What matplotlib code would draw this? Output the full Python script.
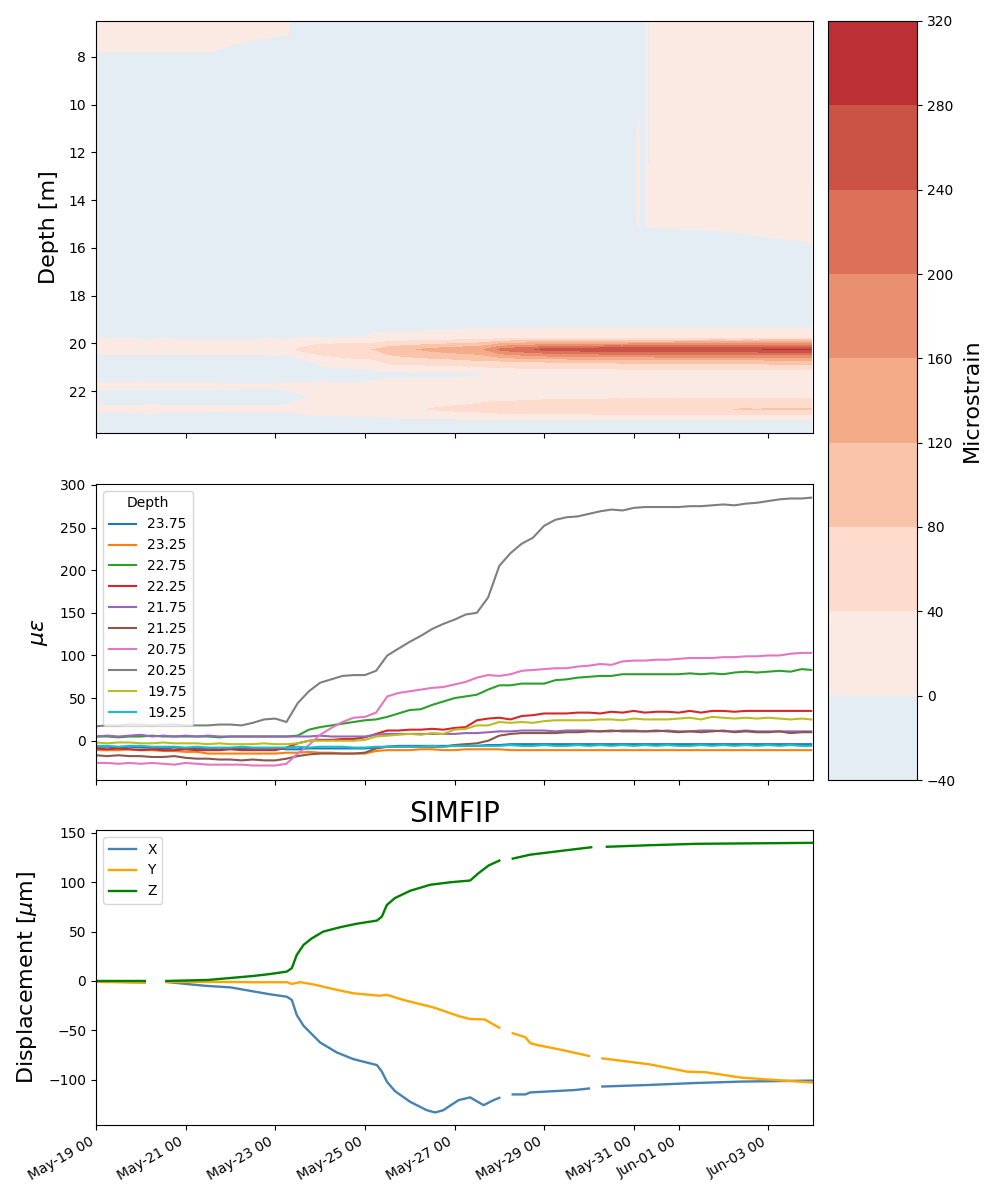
import numpy as np
import matplotlib
matplotlib.use('Agg')
import matplotlib.pyplot as plt
import matplotlib.dates as mdates
from matplotlib.colors import ListedColormap, BoundaryNorm

start = mdates.date2num(np.datetime64('2019-05-19T00:00'))
end = mdates.date2num(np.datetime64('2019-06-04T00:00'))

# fiber strain, one value per quarter day since start (record stops just short of the end)
days = [0, .25, .5, .75, 1, 1.25, 1.5, 1.75, 2, 2.25, 2.5, 2.75, 3, 3.25, 3.5, 3.75,
        4, 4.25, 4.5, 4.75, 5, 5.25, 5.5, 5.75, 6, 6.25, 6.5, 6.75, 7, 7.25, 7.5, 7.75,
        8, 8.25, 8.5, 8.75, 9, 9.25, 9.5, 9.75, 10, 10.25, 10.5, 10.75, 11, 11.25, 11.5, 11.75,
        12, 12.25, 12.5, 12.75, 13, 13.25, 13.5, 13.75, 14, 14.25, 14.5, 14.75, 15, 15.25, 15.5, 15.75, 15.96]
d2375 = [-7, -7, -8, -7, -8, -8, -9, -8, -9, -9, -9, -10, -9, -9, -9, -9,
         -9, -10, -10, -9, -9, -9, -9, -9, -9, -8, -7, -6, -6, -6, -6, -6,
         -6, -6, -6, -5, -5, -4, -4, -4, -4, -4, -4, -4, -4, -4, -4, -4,
         -4, -4, -4, -4, -4, -4, -4, -4, -4, -4, -4, -4, -4, -4, -4, -4, -4]
d2325 = [-11, -11, -11, -10, -11, -11, -12, -12, -13, -13, -15, -15, -15, -15, -15, -15,
         -15, -14, -14, -13, -14, -14, -15, -15, -15, -12, -11, -11, -11, -10, -10, -11,
         -11, -10, -10, -10, -10, -11, -11, -11, -11, -11, -11, -11, -11, -11, -11, -11,
         -11, -11, -11, -11, -11, -11, -11, -11, -11, -11, -11, -11, -11, -11, -11, -11, -11]
d2275 = [5, 5, 4, 5, 5, 6, 5, 5, 5, 5, 5, 4, 5, 5, 5, 5,
         5, 5, 6, 13, 16, 18, 20, 22, 24, 25, 28, 32, 36, 37, 42, 46,
         50, 52, 54, 60, 65, 65, 67, 67, 67, 71, 72, 74, 75, 76, 76, 78,
         78, 78, 78, 78, 78, 79, 78, 79, 78, 80, 81, 80, 81, 82, 81, 84, 83]
d2225 = [-9, -10, -9, -10, -11, -10, -11, -11, -10, -11, -11, -11, -10, -11, -11, -11,
         -11, -8, -3, 0, 1, 1, 2, 2, 4, 8, 12, 12, 13, 13, 14, 13,
         15, 16, 24, 26, 27, 25, 29, 30, 32, 32, 32, 33, 33, 32, 34, 33,
         35, 33, 34, 34, 33, 35, 33, 35, 35, 34, 35, 35, 35, 35, 35, 35, 35]
d2175 = [5, 6, 5, 6, 7, 5, 6, 5, 6, 5, 6, 5, 5, 5, 5, 5,
         5, 5, 5, 5, 6, 5, 5, 5, 5, 7, 8, 8, 8, 8, 8, 8,
         8, 9, 9, 10, 11, 11, 12, 12, 12, 11, 12, 12, 12, 11, 11, 12,
         12, 11, 11, 12, 11, 11, 12, 12, 11, 11, 12, 11, 11, 11, 11, 11, 11]
d2125 = [-17, -18, -17, -18, -18, -19, -19, -18, -20, -21, -21, -22, -22, -23, -22, -23,
         -23, -21, -18, -16, -15, -15, -15, -15, -14, -9, -7, -7, -7, -7, -7, -7,
         -5, -4, -3, 0, 6, 8, 9, 9, 9, 9, 10, 10, 11, 11, 12, 11,
         11, 11, 12, 11, 10, 11, 10, 11, 12, 10, 11, 10, 10, 11, 9, 10, 10]
d2075 = [-26, -26, -27, -26, -27, -26, -27, -28, -26, -27, -28, -28, -28, -28, -29, -29,
         -29, -27, -15, -5, 7, 15, 22, 27, 28, 33, 52, 56, 58, 60, 62, 63,
         66, 69, 74, 77, 76, 78, 82, 83, 84, 85, 85, 87, 88, 90, 89, 93,
         94, 94, 95, 95, 96, 97, 97, 97, 98, 98, 99, 99, 100, 100, 102, 103, 103]
d2025 = [17, 18, 18, 19, 19, 18, 19, 19, 18, 18, 18, 19, 19, 18, 21, 25,
         26, 22, 44, 58, 68, 72, 76, 77, 77, 82, 100, 108, 116, 123, 131, 137,
         142, 148, 150, 168, 205, 220, 231, 238, 252, 259, 262, 263, 266, 269, 271, 270,
         273, 274, 274, 274, 274, 275, 275, 276, 277, 276, 278, 279, 281, 283, 284, 284, 285]
d1975 = [-2, -3, -2, -2, -3, -3, -2, -3, -3, -3, -4, -3, -4, -4, -4, -3,
         -4, -4, -3, 0, 0, 0, 0, 0, 1, 5, 6, 7, 8, 7, 9, 8,
         13, 14, 18, 18, 22, 21, 22, 21, 23, 24, 24, 24, 24, 25, 25, 24,
         26, 25, 25, 25, 26, 27, 25, 28, 27, 26, 27, 26, 27, 26, 25, 26, 25]
d1925 = [-6, -6, -7, -6, -6, -7, -7, -7, -8, -7, -8, -8, -8, -7, -8, -8,
         -8, -8, -7, -8, -7, -7, -7, -8, -8, -7, -7, -7, -7, -7, -6, -7,
         -6, -6, -6, -6, -6, -5, -6, -6, -5, -6, -6, -5, -6, -5, -6, -5,
         -6, -5, -6, -5, -6, -6, -5, -6, -5, -6, -5, -6, -5, -6, -5, -6, -6]
depth_labels = ['23.75', '23.25', '22.75', '22.25', '21.75', '21.25', '20.75', '20.25', '19.75', '19.25']
depth_series = [d2375, d2325, d2275, d2225, d2175, d2125, d2075, d2025, d1975, d1925]

# shallower part of the fiber, only the sign changes up there
shallow_days = [0, 2.5, 3, 4.3, 4.35, 12.05, 12.08, 12.12, 12.15, 12.24, 12.28, 12.32, 12.36, 12.4, 14, 15.96]
shallow_depths = [6.5, 7.25, 7.75, 8.25, 10.25, 10.75, 11.25, 12.25, 12.75, 14.75, 15.25, 15.75, 16.25, 19.25]
shallow_strain = [
    [3, 3, 3, 3, -3, -3, -3, -3, -3, -3, 3, -3, -3, 3, 3, 3],
    [2, 2, 1, -1, -3, -3, -3, -3, -3, -3, 3, -3, -3, 3, 3, 3],
    [.3, .3, -1, -3, -3, -3, -3, -3, -3, -3, 3, -3, -3, 3, 3, 3],
    [-3, -3, -3, -3, -3, -3, -3, -3, -3, -3, 3, -3, -3, 3, 3, 3],
    [-3, -3, -3, -3, -3, -3, -3, -3, -3, -3, 3, -3, -3, 3, 3, 3],
    [-3, -3, -3, -3, -3, -3, -3, 1, -3, -3, 3, -3, -3, 3, 3, 3],
    [-3, -3, -3, -3, -3, -3, 2, 2, -3, -3, 3, -3, -3, 3, 3, 3],
    [-3, -3, -3, -3, -3, -3, 2, 2, -3, -3, 3, -3, -3, 3, 3, 3],
    [-3, -3, -3, -3, -3, -3, 2, 2, -3, -3, 3, 3, 3, 3, 3, 3],
    [-3, -3, -3, -3, -3, -3, 2, 2, -3, -3, 2, 2, 2, 2, 2, 2],
    [-3, -3, -3, -3, -3, -3, -.5, -.5, -.5, -.5, -.5, -.5, -.5, -.5, .2, 2],
    [-3, -3, -3, -3, -3, -3, -3, -3, -3, -3, -3, -3, -3, -3, -2, .1],
    [-3, -3, -3, -3, -3, -3, -3, -3, -3, -3, -3, -3, -3, -3, -3, -3],
    [-3, -3, -3, -3, -3, -3, -3, -3, -3, -3, -3, -3, -3, -3, -3, -3],
]

levels = [-40, 0, 40, 80, 120, 160, 200, 240, 280, 320]
band_colors = ['#e4edf4', '#faeae3', '#fddccd', '#f9c4a9', '#f4ab87',
               '#e99071', '#dc7059', '#cb5346', '#bc3035']

# SIMFIP displacement, nan where the logger was down
x_days = [0, 1.09, np.nan, 1.57, 2, 2.46, 3, 3.5, 3.88, 4.26, 4.37, 4.48, 4.63, 5, 5.37, 5.74, 6.27, 6.38, 6.49, 6.67,
          7.01, 7.38, 7.57, 7.75, 8.09, 8.35, 8.65, 8.87, 9, np.nan, 9.3, 9.58, 9.69, 10.7, 11, np.nan,
          11.3, 12.35, 13.4, 14.4, 16]
x_disp = [-.5, -1.5, np.nan, -1, -3, -5, -6.5, -10.5, -13.5, -16, -19.3, -34.5, -45.4, -62.3, -72.4, -79.2, -85.3, -92, -102, -111.6,
          -122.5, -131, -133.3, -131, -120.8, -118, -125.9, -120.8, -118.5, np.nan, -115, -115, -113, -110.5, -109, np.nan,
          -107, -105.4, -103.4, -102, -101]
y_days = [0, 1.09, np.nan, 1.57, 2, 3, 3.5, 3.88, 4.26, 4.37, 4.56, 4.9, 5.37, 5.74, 6.33, 6.49, 6.86, 7.52, 8.12, 8.35, 8.67, 9, np.nan,
          9.3, 9.58, 9.69, 9.85, 10.3, 11, np.nan, 11.3, 12.35, 13.2, 13.6, 14.4, 16]
y_disp = [-1, -1.5, np.nan, -1, -1, -1, -1.3, -1.3, -1.3, -3, -1.2, -4, -9, -12.5, -15, -14, -19.3, -26.7, -36, -38.6, -39, -47.4, np.nan,
          -53, -57, -63, -65, -69, -76, np.nan, -78.5, -84.5, -92, -92.5, -98, -103]
z_days = [0, 1.09, np.nan, 1.57, 2.5, 3, 3.5, 3.88, 4.26, 4.37, 4.48, 4.63, 4.81, 5.07, 5.45, 5.82, 6.27, 6.38, 6.49, 6.67,
          7.01, 7.46, 7.9, 8.35, 8.53, 8.76, 9, np.nan, 9.3, 9.69, 10.5, 11.05, np.nan, 11.4, 12.3, 13.4, 16]
z_disp = [0, 0, np.nan, 0, 1, 3, 5, 7, 9.5, 13, 26.4, 36.5, 43, 50, 54.5, 58, 61.2, 65.3, 77, 84,
          91.4, 97.5, 100, 101.8, 109, 117, 122, np.nan, 124, 128, 132.5, 135.5, np.nan, 136, 137.5, 139, 140]

fig = plt.figure(figsize=(10, 12), dpi=100)
ax1 = fig.add_axes([.096, 1 - 433 / 1200, .717, 412 / 1200])
ax2 = fig.add_axes([.096, 1 - 780 / 1200, .717, 296 / 1200], sharex=ax1)
ax3 = fig.add_axes([.096, 1 - 1125 / 1200, .717, 295 / 1200], sharex=ax1)
cax = fig.add_axes([.828, 1 - 780 / 1200, .089, 759 / 1200])

cmap = ListedColormap(band_colors)
norm = BoundaryNorm(levels, cmap.N)
t = start + np.array(days)
deep_depths = [19.25, 19.75, 20.25, 20.75, 21.25, 21.75, 22.25, 22.75, 23.25, 23.75]
deep_strain = np.array(depth_series[::-1])
ax1.contourf(start + np.array(shallow_days), shallow_depths, np.array(shallow_strain),
             levels=levels, cmap=cmap, norm=norm)
cs = ax1.contourf(t, deep_depths, deep_strain, levels=levels, cmap=cmap, norm=norm)
ax1.set_ylim(23.75, 6.5)
ax1.set_yticks(np.arange(8, 24, 2))
ax1.set_ylabel('Depth [m]', fontsize=16, labelpad=7)

cbar = fig.colorbar(cs, cax=cax, ticks=levels)
cbar.set_label('Microstrain', fontsize=16)

for label, series in zip(depth_labels, depth_series):
    ax2.plot(t, series, label=label)
ax2.set_ylim(-46, 301)
ax2.set_yticks(np.arange(0, 301, 50))
ax2.set_ylabel(r'$\mu\epsilon$', fontsize=16, labelpad=7)
ax2.legend(title='Depth', loc='upper left')

ax3.plot(start + np.array(x_days), x_disp, color='steelblue', lw=1.7, label='X')
ax3.plot(start + np.array(y_days), y_disp, color='orange', lw=1.7, label='Y')
ax3.plot(start + np.array(z_days), z_disp, color='green', lw=1.7, label='Z')
ax3.set_ylim(-146, 153)
ax3.set_yticks([-100, -50, 0, 50, 100, 150])
ax3.set_ylabel(r'Displacement [$\mu$m]', fontsize=16, labelpad=7)
ax3.set_title('SIMFIP', fontsize=20)
ax3.legend(loc='upper left')

ax3.set_xlim(start, end)
ax3.xaxis_date()
ax3.xaxis.set_major_locator(mdates.DayLocator(bymonthday=range(1, 32, 2)))
ax3.xaxis.set_major_formatter(mdates.DateFormatter('%b-%d %H'))
ax1.tick_params(labelbottom=False)
ax2.tick_params(labelbottom=False)
plt.setp(ax3.get_xticklabels(), rotation=30, ha='right')

fig.savefig('out.png', dpi=100)
